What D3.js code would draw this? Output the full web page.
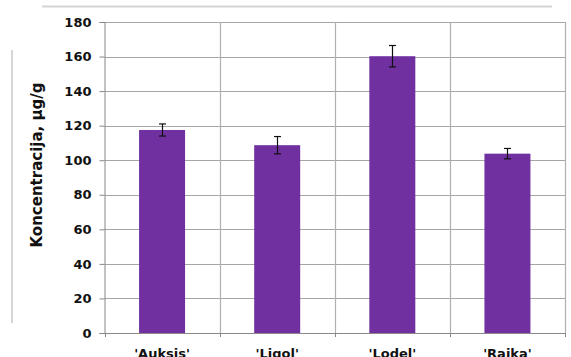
<!DOCTYPE html>
<html><head><meta charset="utf-8">
<script src="https://cdn.jsdelivr.net/npm/d3@7"></script>
<style>body{margin:0;background:#fff}svg{display:block}</style>
</head><body>
<script>
const categories = ["'Auksis'", "'Ligol'", "'Lodel'", "'Rajka'"];
const values = [117.5, 108.7, 160.2, 103.8];
const errors = [3.5, 5, 6.2, 3];
const yTicks = [0, 20, 40, 60, 80, 100, 120, 140, 160, 180];
const yTitle = "Koncentracija, µg/g";

const W = 571, H = 357;
const m = {left: 104.5, right: 6, top: 22, bottom: 24};
const svg = d3.select("body").append("svg").attr("width", W).attr("height", H);

// outer frame fragments
svg.append("line").attr("x1", 42).attr("x2", 552).attr("y1", 6.5).attr("y2", 6.5)
  .attr("stroke", "#d4d4d4").attr("stroke-width", 2);
svg.append("line").attr("x1", 12).attr("x2", 12).attr("y1", 50).attr("y2", 323)
  .attr("stroke", "#c8c8c8").attr("stroke-width", 1.5);

const x = d3.scaleBand().domain(categories).range([m.left, 565]).paddingInner(0).paddingOuter(0);
const y = d3.scaleLinear().domain([0, 180]).range([333, 22]);

const grid = svg.append("g");
// horizontal gridlines
grid.selectAll("line.h").data(yTicks.filter(d => d > 0)).join("line")
  .attr("x1", m.left).attr("x2", 565)
  .attr("y1", d => Math.round(y(d)) + 0.5).attr("y2", d => Math.round(y(d)) + 0.5)
  .attr("stroke", "#a6a6a6").attr("stroke-width", 1);
// vertical gridlines at category boundaries
const bounds = categories.map(c => x(c)).slice(1).concat([x.range()[1]]);
grid.selectAll("line.v").data(bounds).join("line")
  .attr("x1", d => Math.round(d) + 0.5).attr("x2", d => Math.round(d) + 0.5)
  .attr("y1", y(180)).attr("y2", y(0))
  .attr("stroke", "#b0b0b0").attr("stroke-width", 1.2);

// bars
const bw = 46;
svg.selectAll("rect.bar").data(values).join("rect")
  .attr("x", (d, i) => x(categories[i]) + x.bandwidth() / 2 - bw / 2)
  .attr("width", bw)
  .attr("y", d => y(d))
  .attr("height", d => y(0) - y(d))
  .attr("fill", "#7030A0");

// error bars
const eb = svg.append("g").attr("stroke", "#111").attr("stroke-width", 1.2);
values.forEach((v, i) => {
  const cx = Math.round(x(categories[i]) + x.bandwidth() / 2) + 0.5;
  const t = y(v + errors[i]), b = y(v - errors[i]);
  eb.append("line").attr("x1", cx).attr("x2", cx).attr("y1", t).attr("y2", b);
  eb.append("line").attr("x1", cx - 3.5).attr("x2", cx + 3.5).attr("y1", t).attr("y2", t);
  eb.append("line").attr("x1", cx - 3.5).attr("x2", cx + 3.5).attr("y1", b).attr("y2", b);
});

// y axis
const yAxis = d3.axisLeft(y).tickValues(yTicks).tickSize(5).tickPadding(8).tickFormat(d3.format("d"));
const ya = svg.append("g").attr("transform", `translate(${m.left},0)`).call(yAxis);
ya.select(".domain").attr("stroke", "#888");
ya.selectAll(".tick line").attr("stroke", "#888");
ya.selectAll("text").attr("font-family", "DejaVu Sans").attr("font-weight", "bold")
  .attr("font-size", 13).attr("fill", "#111");

// x axis
const xa = svg.append("g").attr("transform", `translate(0,${y(0)})`)
  .call(d3.axisBottom(x).tickSize(0).tickPadding(16));
xa.select(".domain").attr("stroke", "#888");
xa.selectAll("text").attr("font-family", "DejaVu Sans").attr("font-weight", "bold")
  .attr("font-size", 13).attr("fill", "#111");
// bottom tick marks at category boundaries
const bt = [m.left].concat(bounds);
xa.selectAll("line.bt").data(bt).join("line")
  .attr("x1", d => Math.round(d) + 0.5).attr("x2", d => Math.round(d) + 0.5)
  .attr("y1", 0).attr("y2", 4).attr("stroke", "#888");

// y title
svg.append("text").attr("transform", "translate(42,165) rotate(-90)")
  .attr("text-anchor", "middle").attr("font-family", "DejaVu Sans").attr("font-weight", "bold")
  .attr("font-size", 15).attr("fill", "#111").text(yTitle);
</script>
</body></html>
